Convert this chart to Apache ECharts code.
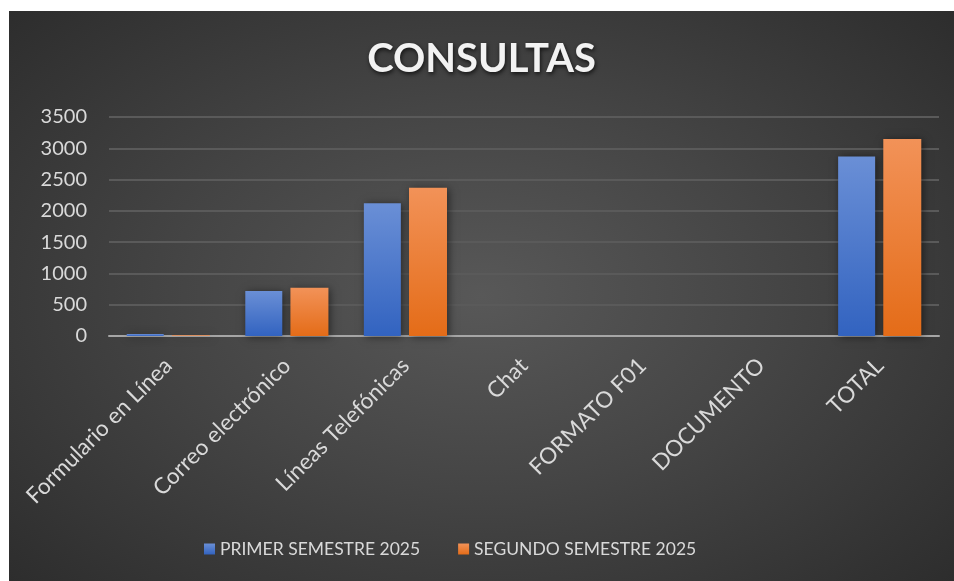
<!DOCTYPE html>
<html>
<head>
<meta charset="utf-8">
<script src="https://cdn.jsdelivr.net/npm/echarts@6/dist/echarts.min.js"></script>
<style>
html,body{margin:0;padding:0;background:#fff;width:954px;height:581px;overflow:hidden;}
#wrap{position:absolute;left:9px;top:11px;width:945px;height:570px;
background:radial-gradient(ellipse 70% 75% at 50% 50%, #585858 0%, #454545 45%, #2c2c2c 100%);}
#chart{width:945px;height:570px;}
</style>
</head>
<body>
<div id="wrap"><div id="chart"></div></div>
<script>
const titleText = 'CONSULTAS';
const categories = ['Formulario en Línea','Correo electrónico','Líneas Telefónicas','Chat','FORMATO F01','DOCUMENTO','TOTAL'];
const seriesNames = ['PRIMER SEMESTRE 2025','SEGUNDO SEMESTRE 2025'];
const primerValues = [30, 720, 2120, 0, 0, 0, 2870];
const segundoValues = [10, 770, 2370, 0, 0, 0, 3150];
const yTicks = {min: 0, max: 3500, interval: 500};

const FONT = 'Lato';
function grad(top, bottom){
  return new echarts.graphic.LinearGradient(0,0,0,1,[{offset:0,color:top},{offset:1,color:bottom}]);
}
const chart = echarts.init(document.getElementById('chart'), null, {renderer:'canvas'});
chart.setOption({
  backgroundColor: 'transparent',
  animation: false,
  title: {
    text: titleText, left: 'center', top: 23,
    textStyle: {color:'#f2f2f2', fontFamily: FONT, fontWeight:'bold', fontSize: 40,
      textShadowColor:'rgba(0,0,0,0.7)', textShadowBlur:4, textShadowOffsetX:1, textShadowOffsetY:2}
  },
  legend: {
    data: seriesNames, bottom: 18, left: 190, itemGap: 38,
    itemWidth: 11, itemHeight: 11, icon: 'rect',
    textStyle: {color:'#d9d9d9', fontFamily: FONT, fontSize: 17.5}
  },
  grid: {left: 100, right: 15, top: 106, bottom: 245, containLabel: false},
  xAxis: {
    type: 'category', data: categories,
    axisLine: {lineStyle: {color:'#a6a6a6', width: 2}},
    axisTick: {show: false},
    axisLabel: {rotate: 45, color:'#d9d9d9', fontFamily: FONT, fontSize: 22.5, margin: 26, interval: 0}
  },
  yAxis: {
    type: 'value', min: yTicks.min, max: yTicks.max, interval: yTicks.interval,
    axisLine: {show:false}, axisTick:{show:false},
    axisLabel: {color:'#d9d9d9', fontFamily: FONT, fontSize: 20, margin: 22, formatter: v => String(v)},
    splitLine: {lineStyle: {color:'#5a5a5a', width: 2}}
  },
  series: [
    {name: seriesNames[0], type:'bar', data: primerValues, barWidth: 37, barGap: '22%',
     itemStyle: {color: grad('#6a8fd6','#3263c0'), shadowColor:'rgba(0,0,0,0.5)', shadowBlur:8, shadowOffsetX:2, shadowOffsetY:1}},
    {name: seriesNames[1], type:'bar', data: segundoValues, barWidth: 38,
     itemStyle: {color: grad('#f29258','#e46c18'), shadowColor:'rgba(0,0,0,0.5)', shadowBlur:8, shadowOffsetX:2, shadowOffsetY:1}}
  ]
});
</script>
</body>
</html>
